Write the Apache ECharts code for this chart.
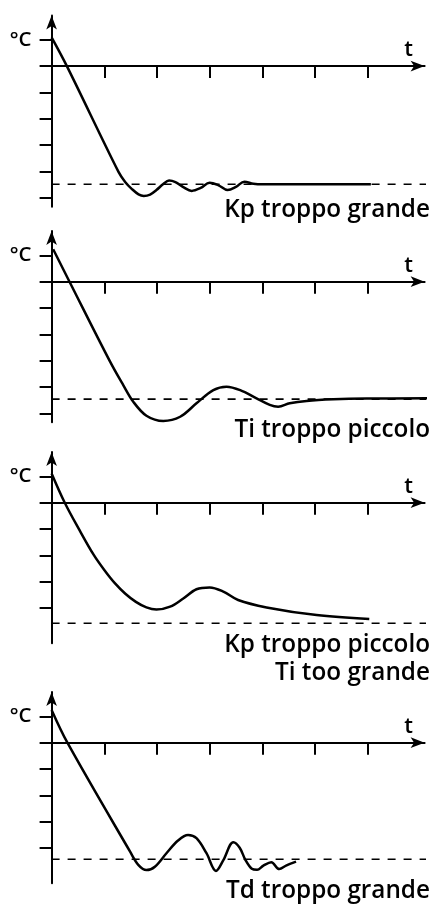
<!DOCTYPE html>
<html>
<head>
<meta charset="utf-8">
<script src="https://cdn.jsdelivr.net/npm/echarts@6/dist/echarts.min.js"></script>
<style>
html,body{margin:0;padding:0;background:#fff;}
#chart{width:434px;height:905px;}
</style>
</head>
<body>
<div id="chart"></div>
<script>
// ---------- data ----------
const xTicks = [1, 2, 3, 4, 5, 6];
const yTicksLong = [1, 0, -1, -2, -3, -4, -5];
const yTicksShort = [1, 0, -1, -2, -3, -4];
const unitLabel = '°C';
const timeLabel = 't';

// Panel 1: Kp troppo grande
const p1T = [0, 0.29, 1.27, 1.40, 1.53, 1.65, 1.75, 1.87, 1.99, 2.12, 2.23, 2.35, 2.50, 2.66, 2.83, 3.00, 3.17, 3.34, 3.50, 3.66, 3.83, 4.02, 6.06];
const p1V = [1.09, 0, -4.01, -4.40, -4.67, -4.86, -4.92, -4.87, -4.70, -4.47, -4.34, -4.40, -4.59, -4.73, -4.62, -4.42, -4.52, -4.70, -4.58, -4.38, -4.46, -4.48, -4.48];
const p1Ref = -4.48;

// Panel 2: Ti troppo piccolo
const p2T = [0.03, 0.34, 1.11, 1.36, 1.55, 1.80, 2.12, 2.44, 2.75, 3.07, 3.32, 3.58, 3.89, 4.14, 4.30, 4.52, 4.84, 5.35, 5.98, 7.18];
const p2V = [1.23, 0, -3.03, -3.92, -4.55, -5.08, -5.28, -5.12, -4.61, -4.11, -3.98, -4.11, -4.42, -4.67, -4.74, -4.61, -4.52, -4.46, -4.43, -4.42];
const p2Ref = -4.45;

// Panel 3: Kp troppo piccolo / Ti too grande
const p3T = [0, 0.25, 0.53, 0.80, 1.00, 1.20, 1.40, 1.60, 1.80, 1.99, 2.25, 2.50, 2.75, 3.00, 3.26, 3.54, 4.08, 5.03, 6.03];
const p3V = [1.11, 0, -1.04, -1.98, -2.55, -3.05, -3.45, -3.76, -3.97, -4.05, -3.94, -3.63, -3.28, -3.21, -3.37, -3.69, -3.97, -4.26, -4.41];
const p3Ref = -4.57;

// Panel 4: Td troppo grande
const p4T = [0, 0.30, 1.49, 1.65, 1.80, 1.96, 2.18, 2.40, 2.59, 2.75, 2.94, 3.12, 3.26, 3.45, 3.57, 3.68, 3.80, 3.90, 4.02, 4.17, 4.32, 4.46, 4.64];
const p4V = [1.24, 0, -4.13, -4.64, -4.83, -4.70, -4.19, -3.71, -3.50, -3.62, -4.19, -4.86, -4.45, -3.77, -3.98, -4.45, -4.78, -4.82, -4.66, -4.53, -4.79, -4.65, -4.51];
const p4Ref = -4.42;

const refStart = 0;
const refEnd = 7.26;

const captions = ['Kp troppo grande', 'Ti troppo piccolo', 'Kp troppo piccolo\nTi too grande', 'Td troppo grande'];

// ---------- layout ----------
const panels = [
  { t: p1T, v: p1V, ref: p1Ref, yTicks: yTicksLong, zero: 66.1, capY: 210 },
  { t: p2T, v: p2V, ref: p2Ref, yTicks: yTicksLong, zero: 281.7, capY: 430 },
  { t: p3T, v: p3V, ref: p3Ref, yTicks: yTicksShort, zero: 502.7, capY: 659.5 },
  { t: p4T, v: p4V, ref: p4Ref, yTicks: yTicksShort, zero: 742.7, capY: 891.5 }
];
const unit = 26.38;
const yMax = 1.92, yMin = -5.33;
const xMax = 7.08;
const FONT = 'Open Sans';

const grids = [], xAxes = [], yAxes = [], series = [], graphics = [];
panels.forEach((p, i) => {
  grids.push({ left: 51.6, top: p.zero - yMax * unit, width: 373, height: (yMax - yMin) * unit });
  xAxes.push({
    type: 'value', gridIndex: i, min: 0, max: xMax,
    axisLine: { onZero: true, symbol: ['none', 'arrow'], symbolSize: [8, 14], lineStyle: { color: '#000', width: 2 } },
    axisTick: { show: true, customValues: xTicks, length: 12, lineStyle: { color: '#000', width: 2 } },
    axisLabel: { show: false },
    splitLine: { show: false },
    name: timeLabel, nameLocation: 'end', nameGap: -16,
    nameTextStyle: { fontFamily: FONT, fontSize: 22, fontWeight: 600, color: '#000', align: 'center', verticalAlign: 'bottom', lineHeight: 22, padding: [0, 0, 5, 0] }
  });
  yAxes.push({
    type: 'value', gridIndex: i, min: yMin, max: yMax,
    axisLine: { onZero: true, symbol: ['none', 'arrow'], symbolSize: [8, 14], lineStyle: { color: '#000', width: 2 } },
    axisTick: { show: true, customValues: p.yTicks, length: 12, lineStyle: { color: '#000', width: 2 } },
    axisLabel: { show: true, customValues: [1], formatter: () => unitLabel, margin: 20, verticalAlign: 'middle', padding: [0, 0, 16, 0], fontFamily: FONT, fontSize: 20.5, fontWeight: 600, color: '#000' },
    splitLine: { show: false }
  });
  series.push({
    type: 'line', xAxisIndex: i, yAxisIndex: i, clip: false, silent: true,
    symbol: 'none', data: [[refStart, p.ref], [refEnd, p.ref]],
    lineStyle: { color: '#000', width: 1.6, type: [8, 8] }
  });
  series.push({
    type: 'line', xAxisIndex: i, yAxisIndex: i, clip: false, silent: true,
    symbol: 'none', smooth: 0.35,
    data: p.t.map((x, k) => [x, p.v[k]]),
    lineStyle: { color: '#000', width: 2.5 }
  });
  graphics.push({
    type: 'text', x: 430, y: p.capY,
    style: { text: captions[i], textAlign: 'right', textVerticalAlign: 'middle', align: 'right', verticalAlign: 'middle',
      fontFamily: FONT, fontSize: 24.3, fontWeight: 600, lineHeight: 28, fill: '#000' }
  });
});

const chart = echarts.init(document.getElementById('chart'), null, { renderer: 'canvas' });
chart.setOption({
  animation: false,
  backgroundColor: '#fff',
  grid: grids, xAxis: xAxes, yAxis: yAxes, series: series, graphic: graphics
});
</script>
</body>
</html>
